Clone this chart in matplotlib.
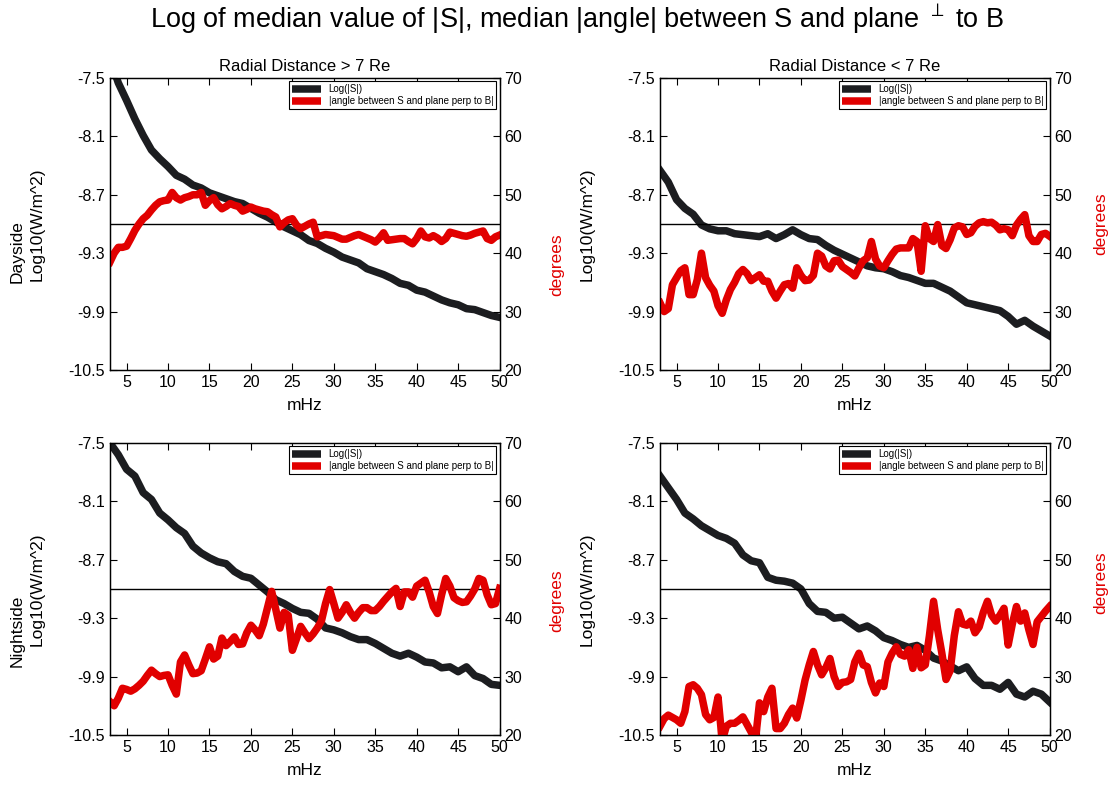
import numpy as np
import matplotlib.pyplot as plt

plt.rcParams['font.family'] = ['Liberation Sans', 'DejaVu Sans']

# frequency grids (mHz)
freq = np.arange(3, 51)
freq_half = np.arange(3, 50.5, 0.5)

# log10 of median |S|, one value per mHz
logs_day_far = [-7.30, -7.55, -7.73, -7.92, -8.09, -8.24, -8.33, -8.41, -8.50, -8.54,
                -8.60, -8.63, -8.68, -8.71, -8.74, -8.77, -8.79, -8.84, -8.89, -8.93,
                -8.98, -9.03, -9.07, -9.11, -9.17, -9.20, -9.25, -9.29, -9.34, -9.37,
                -9.40, -9.46, -9.49, -9.52, -9.56, -9.61, -9.63, -9.68, -9.70, -9.74,
                -9.78, -9.81, -9.83, -9.87, -9.88, -9.91, -9.94, -9.96]
logs_day_near = [-8.45, -8.57, -8.75, -8.84, -8.90, -9.01, -9.05, -9.07, -9.07, -9.10,
                 -9.11, -9.12, -9.13, -9.10, -9.15, -9.11, -9.06, -9.11, -9.15, -9.16,
                 -9.22, -9.27, -9.31, -9.35, -9.39, -9.43, -9.45, -9.46, -9.49, -9.53,
                 -9.55, -9.58, -9.61, -9.61, -9.65, -9.69, -9.75, -9.81, -9.83, -9.85,
                 -9.87, -9.89, -9.95, -10.03, -9.99, -10.05, -10.10, -10.15]
logs_night_far = [-7.50, -7.62, -7.77, -7.84, -8.01, -8.08, -8.22, -8.29, -8.37, -8.43,
                  -8.56, -8.63, -8.68, -8.72, -8.74, -8.82, -8.87, -8.89, -8.96, -9.03,
                  -9.11, -9.15, -9.20, -9.24, -9.25, -9.31, -9.40, -9.42, -9.45, -9.49,
                  -9.52, -9.52, -9.56, -9.61, -9.66, -9.69, -9.66, -9.70, -9.75, -9.76,
                  -9.81, -9.80, -9.85, -9.80, -9.89, -9.92, -9.98, -9.99]
logs_night_near = [-7.84, -7.96, -8.08, -8.22, -8.28, -8.35, -8.40, -8.45, -8.48, -8.53,
                   -8.65, -8.71, -8.73, -8.88, -8.91, -8.92, -8.94, -9.00, -9.15, -9.23,
                   -9.24, -9.30, -9.29, -9.35, -9.41, -9.38, -9.43, -9.50, -9.53, -9.57,
                   -9.60, -9.58, -9.63, -9.71, -9.74, -9.79, -9.84, -9.80, -9.92, -9.99,
                   -9.99, -10.03, -9.96, -10.08, -10.11, -10.05, -10.08, -10.16]

# median |angle| between S and plane perp to B (degrees), every 0.5 mHz
ang_day_far = [38.5, 40.0, 41.0, 41.0, 41.2, 42.5, 43.9, 45.0, 45.9, 46.5,
               47.4, 48.2, 48.8, 49.0, 49.1, 50.4, 49.5, 49.1, 49.5, 49.7,
               50.0, 50.0, 50.4, 48.2, 49.0, 49.5, 48.3, 47.6, 48.0, 48.5,
               48.2, 48.0, 47.2, 47.5, 47.9, 47.6, 47.4, 47.2, 47.1, 46.6,
               46.2, 44.5, 45.2, 45.7, 45.9, 44.8, 44.2, 44.6, 45.0, 45.3,
               42.8, 43.0, 43.2, 43.1, 43.0, 42.7, 42.4, 42.4, 42.7, 43.0,
               43.2, 42.9, 42.6, 42.3, 41.9, 42.6, 43.5, 42.2, 42.3, 42.4,
               42.5, 42.5, 42.0, 41.6, 42.5, 43.8, 42.8, 42.6, 43.0, 42.6,
               42.0, 42.5, 43.6, 43.4, 43.2, 43.0, 42.9, 43.1, 43.4, 43.6,
               43.8, 42.5, 42.2, 42.8, 43.1]
ang_day_near = [31.5, 30.0, 30.5, 34.6, 35.8, 37.0, 37.5, 32.9, 32.9, 35.5,
                40.0, 35.8, 34.5, 33.5, 31.0, 29.7, 32.0, 33.8, 35.0, 36.5,
                37.2, 36.5, 35.3, 35.8, 36.3, 35.2, 35.2, 33.5, 32.3, 33.5,
                34.6, 34.8, 34.0, 37.5, 36.2, 35.3, 35.4, 36.2, 40.0, 39.5,
                37.8, 37.3, 38.7, 38.8, 37.7, 37.2, 36.7, 36.1, 37.5, 38.7,
                39.2, 42.0, 39.0, 37.8, 37.5, 38.7, 39.8, 40.7, 40.9, 40.9,
                40.9, 42.5, 42.0, 36.9, 44.7, 42.5, 42.0, 44.9, 41.3, 40.8,
                42.3, 44.3, 44.7, 44.5, 43.2, 43.5, 44.6, 45.2, 45.4, 45.2,
                45.3, 44.8, 44.0, 44.2, 44.0, 43.0, 44.8, 45.8, 46.6, 43.0,
                42.0, 42.0, 43.2, 43.4, 42.9]
ang_night_far = [25.7, 25.0, 26.3, 28.0, 27.8, 27.5, 27.9, 28.5, 29.2, 30.2,
                 31.1, 30.5, 30.0, 30.2, 30.3, 28.5, 27.0, 32.5, 33.7, 32.0,
                 30.5, 30.6, 31.0, 33.0, 35.1, 33.0, 33.5, 36.6, 35.3, 36.0,
                 36.8, 35.5, 35.6, 37.5, 38.8, 38.0, 37.0, 39.0, 41.8, 44.6,
                 41.5, 38.3, 41.0, 40.5, 34.5, 36.5, 38.6, 37.5, 36.5, 37.3,
                 38.3, 39.5, 42.5, 44.9, 42.5, 40.0, 41.0, 42.3, 41.0, 40.0,
                 41.0, 41.8, 41.8, 41.3, 41.3, 42.0, 42.9, 43.7, 44.5, 45.1,
                 42.0, 44.5, 44.5, 43.6, 45.5, 46.0, 46.5, 44.5, 42.0, 40.8,
                 44.0, 46.8, 45.5, 43.5, 43.0, 42.7, 42.8, 43.8, 45.0, 46.8,
                 46.5, 44.0, 42.3, 42.5, 45.1]
ang_night_near = [21.5, 22.8, 23.4, 23.0, 22.6, 22.0, 24.0, 28.3, 28.6, 28.0,
                  26.9, 23.5, 22.6, 23.0, 26.5, 19.0, 21.5, 22.0, 22.0, 22.5,
                  23.1, 21.8, 20.5, 19.0, 25.5, 24.0, 26.5, 28.0, 21.1, 21.1,
                  22.0, 23.5, 24.6, 22.9, 26.0, 29.4, 32.0, 34.3, 32.0, 30.3,
                  31.5, 33.1, 30.0, 28.3, 29.0, 29.1, 29.5, 32.5, 34.0, 32.0,
                  31.7, 29.0, 27.2, 28.9, 28.3, 32.5, 34.0, 35.1, 33.8, 33.5,
                  34.6, 31.4, 35.0, 31.5, 32.0, 37.0, 42.9, 38.0, 34.0, 29.5,
                  31.0, 37.0, 41.1, 39.0, 38.8, 39.5, 37.5, 38.5, 41.0, 42.9,
                  40.5, 39.5, 40.5, 41.7, 35.4, 39.0, 42.0, 39.5, 40.9, 38.0,
                  35.5, 39.4, 40.3, 41.2, 42.0]

ref_angle = 45
log_ticks = [-10.5, -9.9, -9.3, -8.7, -8.1, -7.5]
deg_ticks = [20, 30, 40, 50, 60, 70]
freq_ticks = [5, 10, 15, 20, 25, 30, 35, 40, 45, 50]

BLACK = '#1c1d20'
RED = '#e10000'

fig = plt.figure(figsize=(11.1, 7.87), dpi=100)
fig.suptitle('Log of median value of |S|, median |angle| between S and plane $^{\\perp}$ to B',
             fontsize=19.5, x=0.52, y=0.975, va='center')

panels = [
    # left, bottom, logs, angles, title, side label, side y, degrees x, degrees y
    (0.0991, 0.5299, logs_day_far, ang_day_far, 'Radial Distance > 7 Re', 'Dayside', 0.407, 1.128, 0.36),
    (0.5946, 0.5299, logs_day_near, ang_day_near, 'Radial Distance < 7 Re', None, None, 1.112, 0.5),
    (0.0991, 0.0661, logs_night_far, ang_night_far, None, 'Nightside', 0.356, 1.128, 0.46),
    (0.5946, 0.0661, logs_night_near, ang_night_near, None, None, None, 1.112, 0.52),
]

for left, bottom, logs, ang, title, side, side_y, deg_x, deg_y in panels:
    ax = fig.add_axes([left, bottom, 0.3510, 0.371])
    l1, = ax.plot(freq, logs, color=BLACK, lw=5.4, solid_joinstyle='round')
    ax.set_xlim(3, 50)
    ax.set_ylim(-10.5, -7.5)
    ax.set_yticks(log_ticks)
    ax.set_yticklabels(['%.1f' % t for t in log_ticks])
    ax.set_xticks(freq_ticks)
    ax.tick_params(direction='in', length=5, labelsize=11.5, top=True, right=False, width=0.8)
    ax.set_xlabel('mHz', fontsize=12.5, labelpad=6)
    ax.set_ylabel('Log10(W/m^2)', fontsize=12.5)
    ax.yaxis.set_label_coords(-0.167, 0.5)
    if title:
        ax.set_title(title, fontsize=12, pad=5)
    if side:
        ax.text(-0.238, side_y, side, transform=ax.transAxes, rotation=90,
                ha='center', va='center', fontsize=12.5)

    ax2 = ax.twinx()
    ax2.axhline(ref_angle, color='black', lw=1, zorder=1)
    l2, = ax2.plot(freq_half, ang, color=RED, lw=5.4, solid_joinstyle='round', zorder=2)
    ax2.set_ylim(20, 70)
    ax2.set_yticks(deg_ticks)
    ax2.tick_params(direction='in', length=5, labelsize=11.5, width=0.8)
    ax2.set_ylabel('degrees', color=RED, fontsize=12.5)
    ax2.yaxis.set_label_coords(deg_x, deg_y)

    leg = ax2.legend([l1, l2], ['Log(|S|)', '|angle between S and plane perp to B|'],
                     loc='upper right', fontsize=7.0, handlelength=3.0, handleheight=0.6,
                     borderpad=0.3, labelspacing=0.2, handletextpad=0.8,
                     borderaxespad=0.35, fancybox=False, framealpha=1)
    leg.get_frame().set_edgecolor('black')
    leg.get_frame().set_linewidth(0.8)
    for h in leg.get_lines():
        h.set_solid_capstyle('butt')

    for a in (ax, ax2):
        for s in a.spines.values():
            s.set_linewidth(0.9)

fig.savefig('out.png', dpi=100)
